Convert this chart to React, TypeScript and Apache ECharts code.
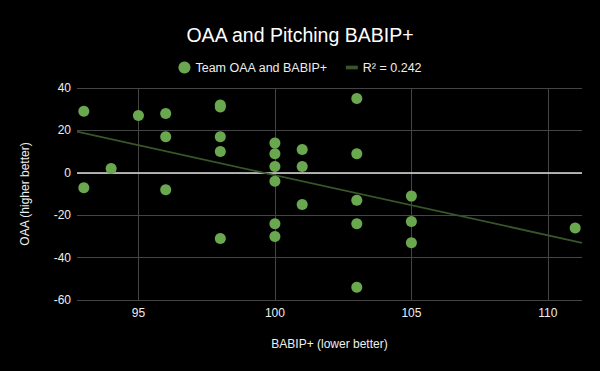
import React, { useEffect, useRef } from "react";
import * as echarts from "echarts";

const chartTitle = "OAA and Pitching BABIP+";
const scatterName = "Team OAA and BABIP+";
const trendName = "R² = 0.242";
const xAxisName = "BABIP+ (lower better)";
const yAxisName = "OAA (higher better)";

const babipPlus = [
  93, 93, 94, 95, 96, 96, 96, 98, 98, 98, 98, 98, 100, 100, 100, 100, 100, 100,
  101, 101, 101, 103, 103, 103, 103, 103, 105, 105, 105, 111,
];
const oaa = [
  29, -7, 2, 27, 28, 17, -8, 32, 31, 17, 10, -31, 14, 9, 3, -4, -24, -30, 11, 3,
  -15, 35, 9, -13, -24, -54, -11, -23, -33, -26,
];
const xTicks = [95, 100, 105, 110];
const xMin = 92.75;
const xMax = 111.25;
const yMin = -60;
const yMax = 40;
const yInterval = 20;

const FONT = 'Arial, "Liberation Sans", sans-serif';

export default function App() {
  const ref = useRef<HTMLDivElement>(null);
  useEffect(() => {
    if (!ref.current) return;
    const chart = echarts.init(ref.current, undefined, { renderer: "svg" });
    const pts = babipPlus.map((x, i) => [x, oaa[i]]);
    const n = pts.length;
    const mx = babipPlus.reduce((a, b) => a + b, 0) / n;
    const my = oaa.reduce((a, b) => a + b, 0) / n;
    let sxy = 0;
    let sxx = 0;
    for (let i = 0; i < n; i++) {
      sxy += (babipPlus[i] - mx) * (oaa[i] - my);
      sxx += (babipPlus[i] - mx) * (babipPlus[i] - mx);
    }
    const slope = sxy / sxx;
    const icpt = my - slope * mx;
    const trend = [
      [xMin, icpt + slope * xMin],
      [xMax, icpt + slope * xMax],
    ];
    chart.setOption({
      animation: false,
      backgroundColor: "#000000",
      textStyle: { fontFamily: FONT },
      title: {
        text: chartTitle,
        left: "center",
        top: 20,
        textStyle: { color: "#ffffff", fontSize: 19.5, fontWeight: "normal", fontFamily: FONT },
      },
      legend: {
        top: 56,
        left: "center",
        itemGap: 18,
        itemWidth: 12,
        itemHeight: 12,
        textStyle: { color: "#eeeeee", fontSize: 12.5, fontFamily: FONT },
        data: [
          { name: scatterName, icon: "circle" },
          { name: trendName, icon: "path://M0,4.5L13,4.5L13,8.5L0,8.5Z" },
        ],
      },
      grid: { left: 77, right: 18, top: 88, bottom: 71 },
      xAxis: {
        type: "value",
        min: xMin,
        max: xMax,
        name: xAxisName,
        nameLocation: "middle",
        nameGap: 38,
        nameTextStyle: { color: "#eeeeee", fontSize: 12, fontFamily: FONT },
        axisLine: { show: false },
        axisTick: { show: false, customValues: xTicks },
        axisLabel: { color: "#eeeeee", fontSize: 12, margin: 7, customValues: xTicks, fontFamily: FONT },
        splitLine: { show: true, lineStyle: { color: "#444444", width: 1 } },
      },
      yAxis: {
        type: "value",
        min: yMin,
        max: yMax,
        interval: yInterval,
        name: yAxisName,
        nameLocation: "middle",
        nameGap: 46,
        nameTextStyle: { color: "#eeeeee", fontSize: 12, fontFamily: FONT },
        axisLine: { show: false },
        axisTick: { show: false },
        axisLabel: { color: "#eeeeee", fontSize: 12, margin: 6, fontFamily: FONT },
        splitLine: { show: true, lineStyle: { color: "#444444", width: 1 } },
      },
      series: [
        {
          name: scatterName,
          type: "scatter",
          data: pts,
          symbol: "circle",
          symbolSize: 11,
          itemStyle: { color: "#6aa84f", opacity: 1 },
          z: 3,
          markLine: {
            silent: true,
            symbol: "none",
            label: { show: false },
            lineStyle: { color: "#dddddd", width: 1.5, type: "solid" },
            data: [{ yAxis: 0 }],
            z: 1,
          },
        },
        {
          name: trendName,
          type: "line",
          data: trend,
          showSymbol: false,
          symbol: "none",
          lineStyle: { color: "#38562a", width: 1.8 },
          itemStyle: { color: "#38562a" },
          z: 2,
        },
      ],
    });
    return () => chart.dispose();
  }, []);
  return (
    <div
      ref={ref}
      style={{ position: "fixed", left: 0, top: 0, width: 600, height: 371 }}
    />
  );
}
